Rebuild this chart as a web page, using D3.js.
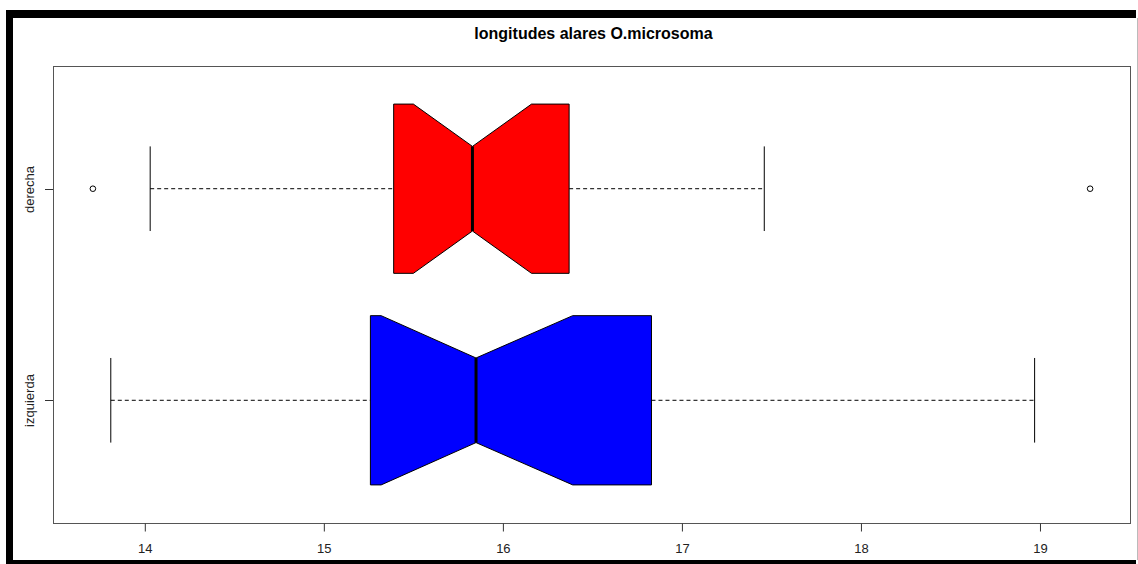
<!DOCTYPE html>
<html>
<head>
<meta charset="utf-8">
<script src="https://cdn.jsdelivr.net/npm/d3@7"></script>
<style>
body { margin: 0; background: #fff; }
svg { display: block; font-family: "Liberation Sans", Arial, sans-serif; }
</style>
</head>
<body>
<script>
(function(){
'use strict';

var width = 1138;
var height = 564;

// grupos, de abajo hacia arriba
var groups = ['izquierda', 'derecha'];
var colors = ['#0000ff', '#ff0000'];

var whiskerLo = [13.81, 14.03];
var q1 = [15.26, 15.39];
var notchLo = [15.32, 15.50];
var median = [15.85, 15.83];
var notchHi = [16.39, 16.16];
var q3 = [16.83, 16.37];
var whiskerHi = [18.97, 17.46];
var outliers = [[], [13.71, 19.28]];

var xTicks = [14, 15, 16, 17, 18, 19];

var left = 53, right = 1130, top = 66, bottom = 523;

var svg = d3.select('body').append('svg')
	.attr('width', width)
	.attr('height', height);

svg.append('rect').attr('width', width).attr('height', height).attr('fill', '#fff');

// marco negro de la captura
svg.append('rect').attr('x', 6).attr('y', 10).attr('width', 1130).attr('height', 8).attr('fill', '#000');
svg.append('rect').attr('x', 6).attr('y', 10).attr('width', 7).attr('height', 554).attr('fill', '#000');
svg.append('rect').attr('x', 6).attr('y', 560).attr('width', 1130).attr('height', 4).attr('fill', '#000');
svg.append('line').attr('x1', 1137.5).attr('x2', 1137.5).attr('y1', 18).attr('y2', 560)
	.attr('stroke', '#bbb');

// rango como en R (4% extra)
var allVals = [];
for(var i=0; i<groups.length; i++){
	allVals.push(whiskerLo[i], whiskerHi[i]);
	allVals = allVals.concat(outliers[i]);
}
var ext = d3.extent(allVals);
var pad = (ext[1] - ext[0]) * 0.04;

var x = d3.scaleLinear().domain([ext[0] - pad, ext[1] + pad]).range([left, right]);
var y = d3.scaleLinear().domain([0.5 - 0.08, groups.length + 0.5 + 0.08]).range([bottom, top]);

var boxW = 0.4;

var g = svg.append('g');

groups.forEach(function(name, i){
	var c = i + 1;
	var yc = y(c);
	var yt = y(c + boxW), yb = y(c - boxW);
	var yt2 = y(c + boxW/2), yb2 = y(c - boxW/2);
	var capT = y(c + boxW/2), capB = y(c - boxW/2);

	// bigotes
	g.append('line')
		.attr('x1', x(whiskerLo[i])).attr('x2', x(q1[i]))
		.attr('y1', yc).attr('y2', yc)
		.attr('stroke', '#000').attr('stroke-dasharray', '4,3');
	g.append('line')
		.attr('x1', x(q3[i])).attr('x2', x(whiskerHi[i]))
		.attr('y1', yc).attr('y2', yc)
		.attr('stroke', '#000').attr('stroke-dasharray', '4,3');
	[whiskerLo[i], whiskerHi[i]].forEach(function(v){
		g.append('line')
			.attr('x1', x(v)).attr('x2', x(v))
			.attr('y1', capT).attr('y2', capB)
			.attr('stroke', '#000');
	});

	// caja con muesca
	var pts = [
		[x(q1[i]), yt], [x(notchLo[i]), yt], [x(median[i]), yt2],
		[x(notchHi[i]), yt], [x(q3[i]), yt], [x(q3[i]), yb],
		[x(notchHi[i]), yb], [x(median[i]), yb2], [x(notchLo[i]), yb],
		[x(q1[i]), yb]
	];
	g.append('path')
		.attr('d', d3.line()(pts) + 'Z')
		.attr('fill', colors[i])
		.attr('stroke', '#000')
		.attr('stroke-width', 1);

	g.append('line')
		.attr('x1', x(median[i])).attr('x2', x(median[i]))
		.attr('y1', yt2).attr('y2', yb2)
		.attr('stroke', '#000').attr('stroke-width', 3);

	outliers[i].forEach(function(v){
		g.append('circle')
			.attr('cx', x(v)).attr('cy', yc).attr('r', 2.8)
			.attr('fill', 'none').attr('stroke', '#000');
	});
});

// marco del grafico
svg.append('rect')
	.attr('x', left + 0.5).attr('y', top + 0.5)
	.attr('width', right - left).attr('height', bottom - top)
	.attr('fill', 'none').attr('stroke', '#555');

// eje x
var xAxis = svg.append('g')
	.attr('transform', 'translate(0,' + (bottom + 0.5) + ')')
	.call(d3.axisBottom(x).tickValues(xTicks).tickSize(8).tickSizeOuter(0).tickPadding(12)
		.tickFormat(d3.format('d')));
xAxis.select('.domain').remove();
xAxis.selectAll('line').attr('stroke', '#333');
xAxis.selectAll('text').attr('font-size', 13).attr('fill', '#222')
	.attr('font-family', '"Liberation Sans", Arial, sans-serif');

// eje y
groups.forEach(function(name, i){
	var yc = Math.round(y(i + 1)) + 0.5;
	svg.append('line')
		.attr('x1', 45).attr('x2', left)
		.attr('y1', yc).attr('y2', yc)
		.attr('stroke', '#333');
	svg.append('text')
		.attr('transform', 'translate(34,' + yc + ') rotate(-90)')
		.attr('text-anchor', 'middle')
		.attr('font-size', 13)
		.attr('fill', '#222')
		.text(name);
});

svg.append('text')
	.attr('x', (left + right) / 2 + 2)
	.attr('y', 39)
	.attr('text-anchor', 'middle')
	.attr('font-size', 16)
	.attr('font-weight', 'bold')
	.attr('fill', '#000')
	.text('longitudes alares O.microsoma');

})();
</script>
</body>
</html>
